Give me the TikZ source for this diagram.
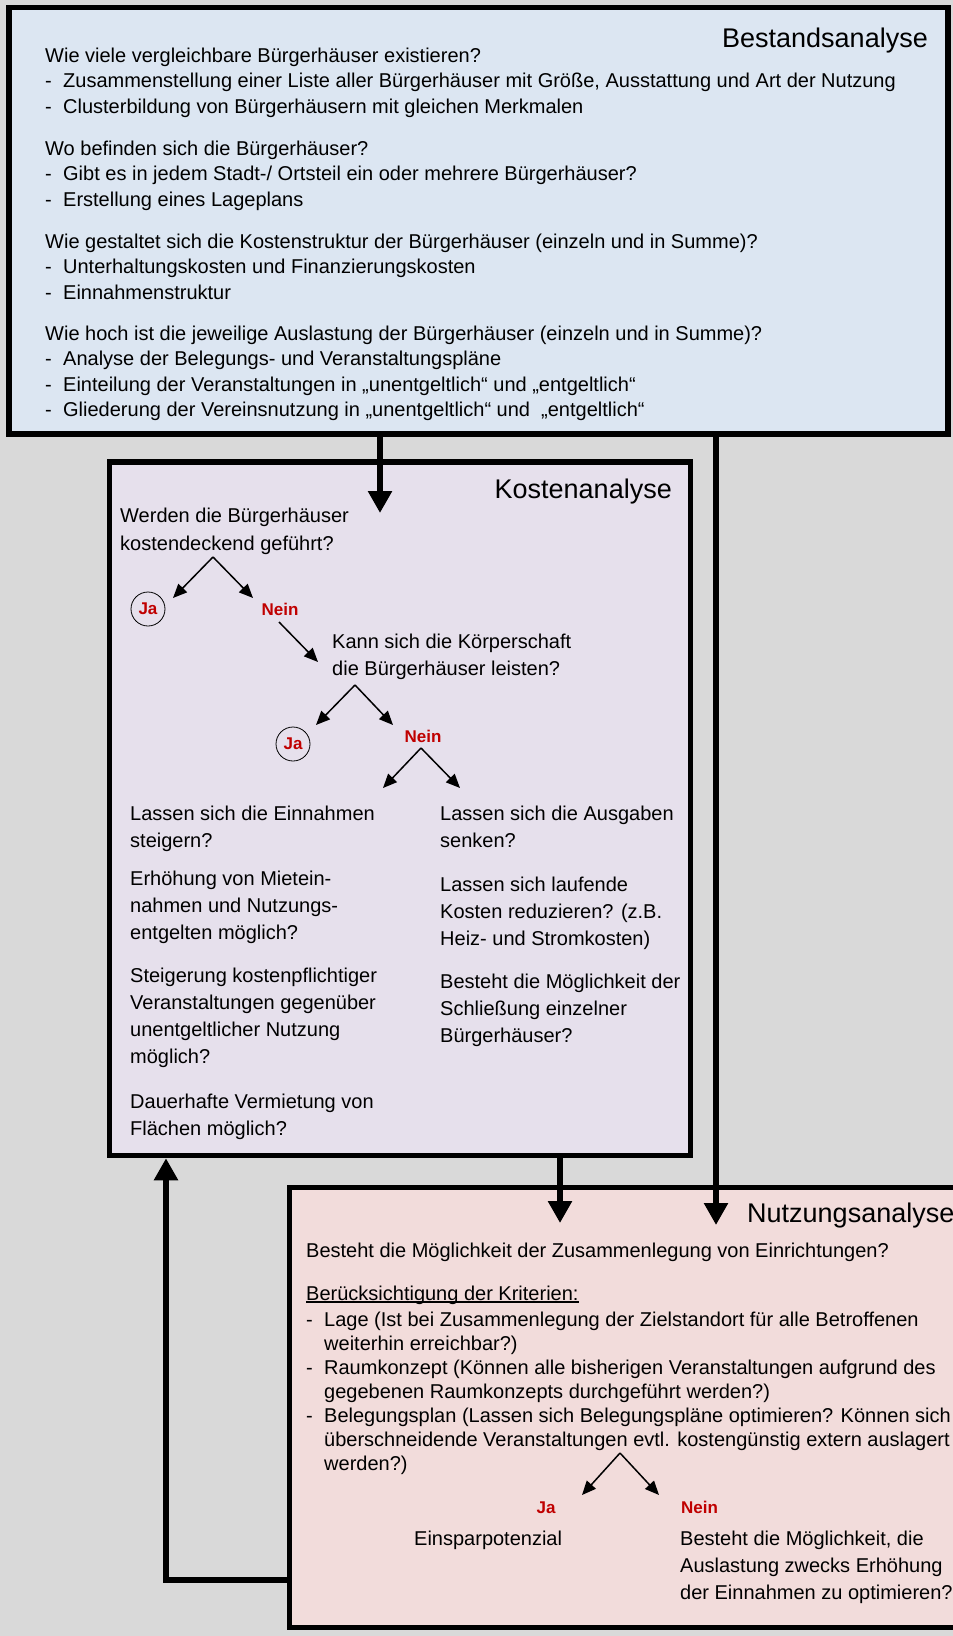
\documentclass[tikz,border=0pt]{standalone}
\usepackage{fontspec}
\setmainfont{Liberation Sans}
\usetikzlibrary{arrows.meta}
\definecolor{bggrey}{HTML}{D9D9D9}
\definecolor{bestfill}{HTML}{DCE6F2}
\definecolor{kostfill}{HTML}{E6E0EC}
\definecolor{nutzfill}{HTML}{F2DCDB}
\definecolor{jared}{HTML}{C00000}
\newcommand\bdash{\makebox[18pt][l]{-}}
\newcommand\bind{\makebox[18pt][l]{}}
\newcommand\ulin[1]{\setbox0\hbox{#1}\rlap{\rule[-2.5pt]{\wd0}{1.1pt}}\box0}
\begin{document}
\begin{tikzpicture}[x=1pt,y=-1pt,
  panel/.style={draw=black, line width=5.5pt, inner sep=0pt},
  paneltitle/.style={inner sep=0pt, font=\fontsize{27}{32}\selectfont},
  body/.style={inner sep=0pt, align=left, anchor=base west, font=\fontsize{20}{#1}\selectfont},
  body/.default=27,
  answer/.style={inner sep=0pt, text=jared, font=\bfseries\fontsize{17}{20}\selectfont},
  jacircle/.style={circle, draw=black, line width=0.8pt, minimum size=34pt, inner sep=0pt, text=jared, font=\bfseries\fontsize{17}{20}\selectfont},
  bigarrow/.style={line width=6pt, -{Triangle[length=22pt,width=23pt]}},
  smallarrow/.style={line width=1.5pt, -{Triangle[length=14pt,width=12pt]}}
]
\useasboundingbox (0,0) rectangle (953,1636);
\fill[bggrey] (0,0) rectangle (953,1636);

% panels
\node[panel, fill=bestfill, minimum width=939pt, minimum height=426.5pt] (bestand) at (478.5,220.75) {};
\node[panel, fill=kostfill, minimum width=581pt, minimum height=693.5pt] (kosten) at (400,808.75) {};
\node[panel, fill=nutzfill, minimum width=710.5pt, minimum height=440pt] (nutzung) at (644.75,1407.5) {};

% Bestandsanalyse (multi-line nodes are anchored at the baseline of their last line)
\node[paneltitle, anchor=base east] (btitle) at (928,47) {Bestandsanalyse};
\node[body=25.5] (b1) at (45,113) {Wie viele vergleichbare Bürgerhäuser existieren?\\\bdash Zusammenstellung einer Liste aller Bürgerhäuser mit Größe, Ausstattung und Art der Nutzung\\\bdash Clusterbildung von Bürgerhäusern mit gleichen Merkmalen};
\node[body=25.5] (b2) at (45,206) {Wo befinden sich die Bürgerhäuser?\\\bdash Gibt es in jedem Stadt-/ Ortsteil ein oder mehrere Bürgerhäuser?\\\bdash Erstellung eines Lageplans};
\node[body=25.5] (b3) at (45,299) {Wie gestaltet sich die Kostenstruktur der Bürgerhäuser (einzeln und in Summe)?\\\bdash Unterhaltungskosten und Finanzierungskosten\\\bdash Einnahmenstruktur};
\node[body=25.5] (b4) at (45,416.5) {Wie hoch ist die jeweilige Auslastung der Bürgerhäuser (einzeln und in Summe)?\\\bdash Analyse der Belegungs- und Veranstaltungspläne\\\bdash Einteilung der Veranstaltungen in „unentgeltlich“ und „entgeltlich“\\\bdash Gliederung der Vereinsnutzung in „unentgeltlich“ und\ \ „entgeltlich“};

% Kostenanalyse
\node[paneltitle, anchor=base east] (ktitle) at (672,498) {Kostenanalyse};
\node[body=28] (k1) at (120,550) {Werden die Bürgerhäuser\\kostendeckend geführt?};
\node[jacircle] (kja1) at (148,609) {Ja};
\node[answer, anchor=base] (knein1) at (280,615) {Nein};
\node[body=27] (k2) at (332,675) {Kann sich die Körperschaft\\die Bürgerhäuser leisten?};
\node[jacircle] (kja2) at (293,744) {Ja};
\node[answer, anchor=base] (knein2) at (423,742) {Nein};
\node[body=27.3] (kl1) at (130,847.3) {Lassen sich die Einnahmen\\steigern?};
\node[body=27.3] (kl2) at (130,939.6) {Erhöhung von Mietein-\\nahmen und Nutzungs-\\entgelten möglich?};
\node[body=27.3] (kl3) at (130,1063.9) {Steigerung kostenpflichtiger\\Veranstaltungen gegenüber\\unentgeltlicher Nutzung\\möglich?};
\node[body=27.3] (kl4) at (130,1135.3) {Dauerhafte Vermietung von\\Flächen möglich?};
\node[body=27.3] (kr1) at (440,847.3) {Lassen sich die Ausgaben\\senken?};
\node[body=27.3] (kr2) at (440,945.6) {Lassen sich laufende\\Kosten reduzieren? (z.B.\\Heiz- und Stromkosten)};
\node[body=27.3] (kr3) at (440,1042.6) {Besteht die Möglichkeit der\\Schließung einzelner\\Bürgerhäuser?};

\coordinate (f1) at (213,557);
\coordinate (f1l) at (173,598);
\coordinate (f1r) at (253,598);
\coordinate (g1s) at (279,622);
\coordinate (g1e) at (318,662);
\coordinate (f2) at (355,685);
\coordinate (f2l) at (316,725);
\coordinate (f2r) at (393,725);
\coordinate (f3) at (421,748);
\coordinate (f3l) at (383,788);
\coordinate (f3r) at (460,788);
\draw[smallarrow] (f1) -- (f1l);
\draw[smallarrow] (f1) -- (f1r);
\draw[smallarrow] (g1s) -- (g1e);
\draw[smallarrow] (f2) -- (f2l);
\draw[smallarrow] (f2) -- (f2r);
\draw[smallarrow] (f3) -- (f3l);
\draw[smallarrow] (f3) -- (f3r);

% Nutzungsanalyse
\node[paneltitle, anchor=base west] (ntitle) at (747,1222) {Nutzungsanalyse};
\node[body] (n1) at (306,1257) {Besteht die Möglichkeit der Zusammenlegung von Einrichtungen?};
\node[body] (n2) at (306,1300) {\ulin{Berücksichtigung der Kriterien:}};
\node[body=24] (n3) at (306,1470) {\bdash Lage (Ist bei Zusammenlegung der Zielstandort für alle Betroffenen\\\bind weiterhin erreichbar?)\\\bdash Raumkonzept (Können alle bisherigen Veranstaltungen aufgrund des\\\bind gegebenen Raumkonzepts durchgeführt werden?)\\\bdash Belegungsplan (Lassen sich Belegungspläne optimieren? Können sich\\\bind überschneidende Veranstaltungen evtl. kostengünstig extern auslagert\\\bind werden?)};
\coordinate (f4) at (620,1453);
\coordinate (f4l) at (582,1495);
\coordinate (f4r) at (659,1495);
\draw[smallarrow] (f4) -- (f4l);
\draw[smallarrow] (f4) -- (f4r);
\node[answer, anchor=base] (nja) at (546,1513) {Ja};
\node[answer, anchor=base west] (nnein) at (681,1513) {Nein};
\node[body] (nspar) at (414,1545) {Einsparpotenzial};
\node[body=27] (n4) at (680,1599) {Besteht die Möglichkeit, die\\Auslastung zwecks Erhöhung\\der Einnahmen zu optimieren?};

% main connectors
\coordinate (a1) at (380,513);
\coordinate (a2) at (716,1225);
\coordinate (a3) at (560,1223);
\coordinate (a4) at (166,1580);
\draw[bigarrow] (bestand.south -| a1) -- (a1);
\draw[bigarrow] (bestand.south -| a2) -- (a2);
\draw[bigarrow] (kosten.south -| a3) -- (a3);
\draw[bigarrow] (nutzung.west |- a4) -- (a4) -- (kosten.south -| a4);
\end{tikzpicture}
\end{document}
